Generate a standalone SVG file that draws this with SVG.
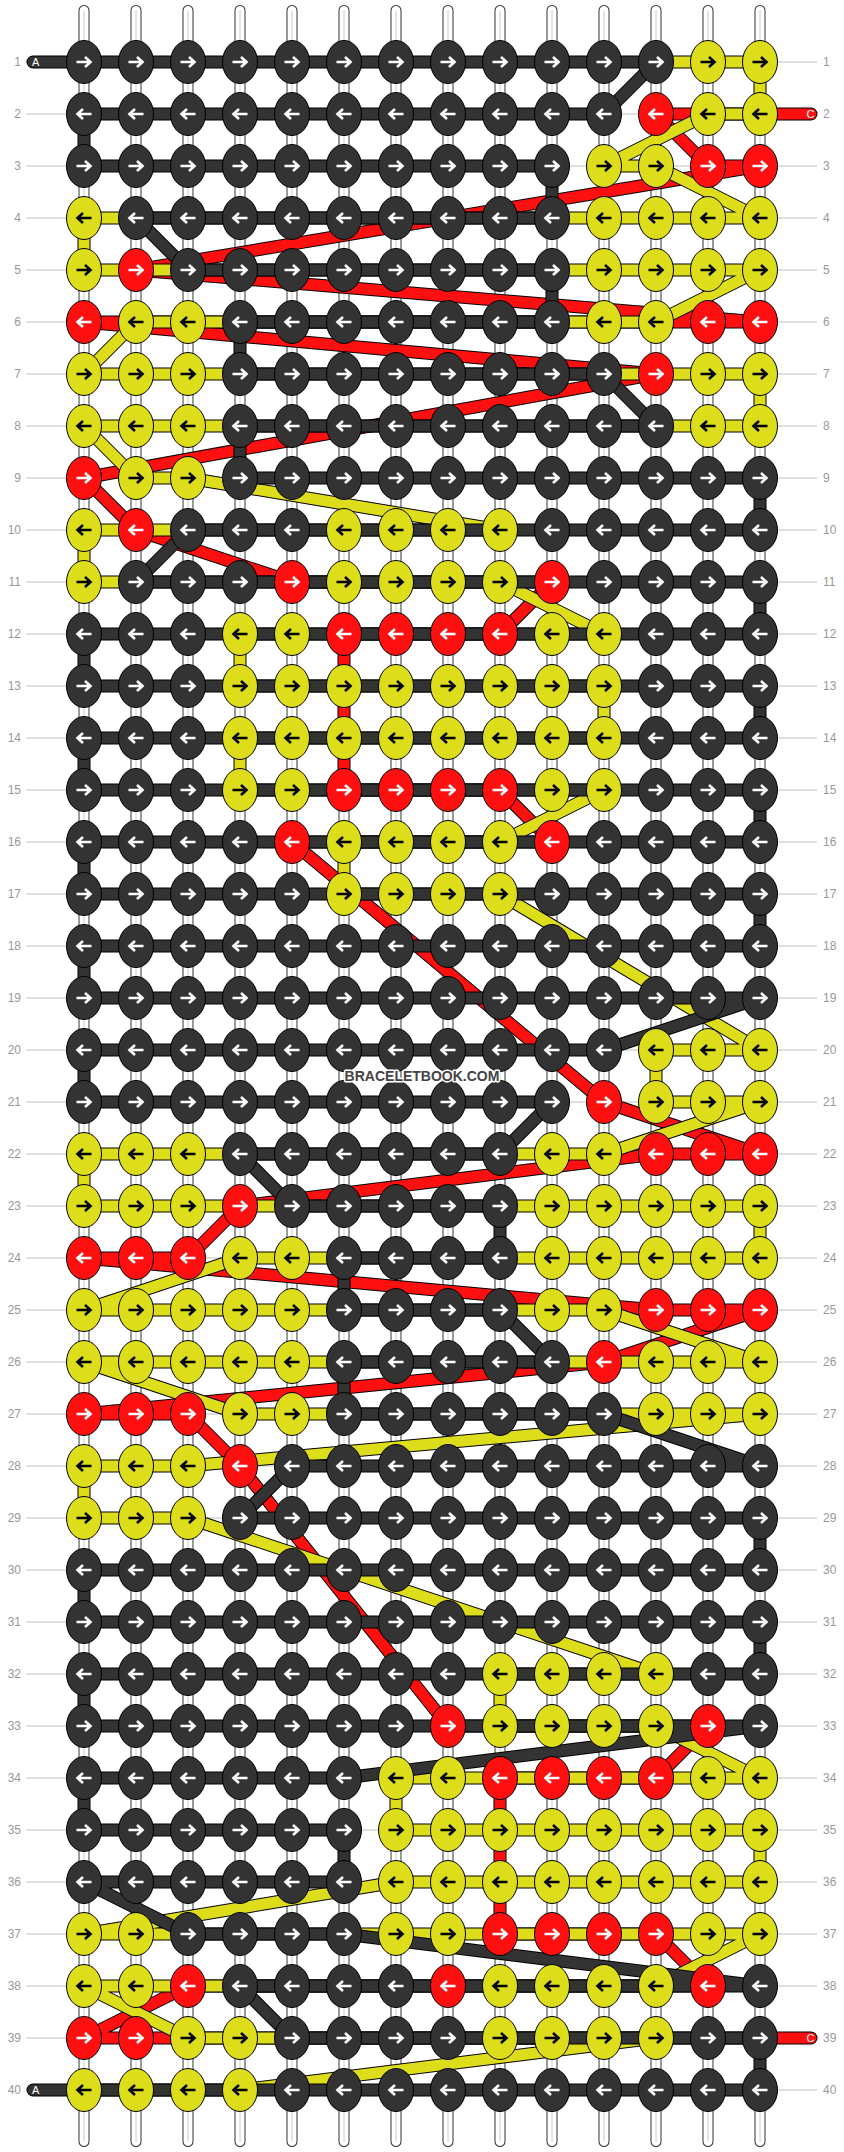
<svg xmlns="http://www.w3.org/2000/svg" xmlns:xlink="http://www.w3.org/1999/xlink" width="844" height="2152" viewBox="0 0 844 2152">
<style>
.g{fill:none;stroke:#c0c0c0;stroke-width:1}
.n{font-family:"Liberation Sans",Arial,sans-serif;font-size:12px;fill:#999}
.l{font-family:"Liberation Sans",Arial,sans-serif;font-size:11px;fill:#fff}
.o{fill:none;stroke:#000;stroke-width:13;stroke-linejoin:round;stroke-linecap:round}
.t{fill:none;stroke-width:11;stroke-linejoin:round;stroke-linecap:round}
.wm{font-family:"Liberation Sans",Arial,sans-serif;font-size:14px;font-weight:bold;fill:#444;stroke:#fff;stroke-width:3;paint-order:stroke;stroke-linejoin:round}
</style>
<defs>
<path id="sp" d="M84,10.5V2141.5M136,10.5V2141.5M188,10.5V2141.5M240,10.5V2141.5M292,10.5V2141.5M344,10.5V2141.5M396,10.5V2141.5M448,10.5V2141.5M500,10.5V2141.5M552,10.5V2141.5M604,10.5V2141.5M656,10.5V2141.5M708,10.5V2141.5M760,10.5V2141.5" fill="none"/>
<path id="pA" d="M33,62H656L604,114H84V166H552V218H136L188,270H552V322H240V374H604L656,426H240V478H760V530H188L136,582H760V634H84V686H760V738H84V790H760V842H84V894H760V946H84V998H760L604,1050H84V1102H552L500,1154H240L292,1206H500V1258H344V1310H500L552,1362H344V1414H604L760,1466H292L240,1518H760V1570H84V1622H760V1674H84V1726H760L344,1778H84V1830H344V1882H84L188,1934H344L760,1986H240L292,2038H760V2090H33"/>
<path id="pB" d="M656,62H760V114H708L604,166H656L760,218H84V270H760L656,322H136L84,374H760V426H84L136,478H188L500,530H84V582H500L604,634H240V686H604V738H240V790H604L500,842H344V894H500L760,1050H656V1102H760L604,1154H84V1206H760V1258H240L84,1310H604L760,1362H84L240,1414H760L188,1466H84V1518H188L656,1674H500V1726H656L760,1778H396V1830H760V1882H396L84,1934H760L656,1986H84L188,2038H656L240,2090H84"/>
<path id="pC" d="M811,114H656L708,166H760L136,270L760,322H84L656,374L84,478L136,530L292,582H552L500,634H344V790H500L552,842H292L604,1102L760,1154H656L240,1206L188,1258H84L656,1310H760L604,1362L84,1414H188L240,1466L448,1726H708L656,1778H500V1934H656L708,1986H188L84,2038H811"/>
<ellipse id="e" rx="17.5" ry="21.5" stroke="#000" stroke-width="1"/>
<path id="af" d="M-7.5,0H6M1,-5L6.5,0L1,5" fill="none" stroke-width="2.6"/>
<path id="ab" d="M7.5,0H-6M-1,-5L-6.5,0L-1,5" fill="none" stroke-width="2.6"/>
<g id="kf"><use href="#e" fill="#333"/><use href="#af" stroke="#fff"/></g>
<g id="kb"><use href="#e" fill="#333"/><use href="#ab" stroke="#fff"/></g>
<g id="yf"><use href="#e" fill="#dddd1b"/><use href="#af" stroke="#000"/></g>
<g id="yb"><use href="#e" fill="#dddd1b"/><use href="#ab" stroke="#000"/></g>
<g id="rf"><use href="#e" fill="#ff1010"/><use href="#af" stroke="#fff"/></g>
<g id="rb"><use href="#e" fill="#ff1010"/><use href="#ab" stroke="#fff"/></g>
</defs>
<rect width="844" height="2152" fill="#fff"/>
<g id="guides">
<path class="g" d="M26,62H817M26,114H817M26,166H817M26,218H817M26,270H817M26,322H817M26,374H817M26,426H817M26,478H817M26,530H817M26,582H817M26,634H817M26,686H817M26,738H817M26,790H817M26,842H817M26,894H817M26,946H817M26,998H817M26,1050H817M26,1102H817M26,1154H817M26,1206H817M26,1258H817M26,1310H817M26,1362H817M26,1414H817M26,1466H817M26,1518H817M26,1570H817M26,1622H817M26,1674H817M26,1726H817M26,1778H817M26,1830H817M26,1882H817M26,1934H817M26,1986H817M26,2038H817M26,2090H817"/>
<g class="n" text-anchor="end">
<text x="21" y="66">1</text><text x="21" y="118">2</text><text x="21" y="170">3</text><text x="21" y="222">4</text><text x="21" y="274">5</text><text x="21" y="326">6</text><text x="21" y="378">7</text><text x="21" y="430">8</text><text x="21" y="482">9</text><text x="21" y="534">10</text><text x="21" y="586">11</text><text x="21" y="638">12</text><text x="21" y="690">13</text><text x="21" y="742">14</text><text x="21" y="794">15</text><text x="21" y="846">16</text><text x="21" y="898">17</text><text x="21" y="950">18</text><text x="21" y="1002">19</text><text x="21" y="1054">20</text><text x="21" y="1106">21</text><text x="21" y="1158">22</text><text x="21" y="1210">23</text><text x="21" y="1262">24</text><text x="21" y="1314">25</text><text x="21" y="1366">26</text><text x="21" y="1418">27</text><text x="21" y="1470">28</text><text x="21" y="1522">29</text><text x="21" y="1574">30</text><text x="21" y="1626">31</text><text x="21" y="1678">32</text><text x="21" y="1730">33</text><text x="21" y="1782">34</text><text x="21" y="1834">35</text><text x="21" y="1886">36</text><text x="21" y="1938">37</text><text x="21" y="1990">38</text><text x="21" y="2042">39</text><text x="21" y="2094">40</text>
</g>
<g class="n">
<text x="823" y="66">1</text><text x="823" y="118">2</text><text x="823" y="170">3</text><text x="823" y="222">4</text><text x="823" y="274">5</text><text x="823" y="326">6</text><text x="823" y="378">7</text><text x="823" y="430">8</text><text x="823" y="482">9</text><text x="823" y="534">10</text><text x="823" y="586">11</text><text x="823" y="638">12</text><text x="823" y="690">13</text><text x="823" y="742">14</text><text x="823" y="794">15</text><text x="823" y="846">16</text><text x="823" y="898">17</text><text x="823" y="950">18</text><text x="823" y="1002">19</text><text x="823" y="1054">20</text><text x="823" y="1106">21</text><text x="823" y="1158">22</text><text x="823" y="1210">23</text><text x="823" y="1262">24</text><text x="823" y="1314">25</text><text x="823" y="1366">26</text><text x="823" y="1418">27</text><text x="823" y="1470">28</text><text x="823" y="1522">29</text><text x="823" y="1574">30</text><text x="823" y="1626">31</text><text x="823" y="1678">32</text><text x="823" y="1730">33</text><text x="823" y="1782">34</text><text x="823" y="1834">35</text><text x="823" y="1886">36</text><text x="823" y="1938">37</text><text x="823" y="1990">38</text><text x="823" y="2042">39</text><text x="823" y="2094">40</text>
</g>
</g>
<g id="strings">
<use href="#sp" stroke="#333" stroke-width="11" stroke-linecap="round"/>
<use href="#sp" stroke="#fff" stroke-width="9" stroke-linecap="round"/>
<use href="#sp" stroke="#c8c8c8" stroke-width="1"/>
</g>
<g id="connectors">
<use href="#pC" class="o"/><use href="#pC" class="t" stroke="#ff1010"/>
<use href="#pB" class="o"/><use href="#pB" class="t" stroke="#dddd1b"/>
<use href="#pA" class="o"/><use href="#pA" class="t" stroke="#333"/>
<text class="l" x="32" y="66">A</text>
<text class="l" x="814.5" y="118" text-anchor="end">C</text>
<text class="l" x="814.5" y="2042" text-anchor="end">C</text>
<text class="l" x="32" y="2094">A</text>
</g>
<g id="knots">
<g transform="translate(0,62)"><g id="n1_1"><use href="#kf" x="84"/></g><g id="n1_2"><use href="#kf" x="136"/></g><g id="n1_3"><use href="#kf" x="188"/></g><g id="n1_4"><use href="#kf" x="240"/></g><g id="n1_5"><use href="#kf" x="292"/></g><g id="n1_6"><use href="#kf" x="344"/></g><g id="n1_7"><use href="#kf" x="396"/></g><g id="n1_8"><use href="#kf" x="448"/></g><g id="n1_9"><use href="#kf" x="500"/></g><g id="n1_10"><use href="#kf" x="552"/></g><g id="n1_11"><use href="#kf" x="604"/></g><g id="n1_12"><use href="#kf" x="656"/></g><g id="n1_13"><use href="#yf" x="708"/></g><g id="n1_14"><use href="#yf" x="760"/></g></g>
<g transform="translate(0,114)"><g id="n2_1"><use href="#kb" x="84"/></g><g id="n2_2"><use href="#kb" x="136"/></g><g id="n2_3"><use href="#kb" x="188"/></g><g id="n2_4"><use href="#kb" x="240"/></g><g id="n2_5"><use href="#kb" x="292"/></g><g id="n2_6"><use href="#kb" x="344"/></g><g id="n2_7"><use href="#kb" x="396"/></g><g id="n2_8"><use href="#kb" x="448"/></g><g id="n2_9"><use href="#kb" x="500"/></g><g id="n2_10"><use href="#kb" x="552"/></g><g id="n2_11"><use href="#kb" x="604"/></g><g id="n2_12"><use href="#rb" x="656"/></g><g id="n2_13"><use href="#yb" x="708"/></g><g id="n2_14"><use href="#yb" x="760"/></g></g>
<g transform="translate(0,166)"><g id="n3_1"><use href="#kf" x="84"/></g><g id="n3_2"><use href="#kf" x="136"/></g><g id="n3_3"><use href="#kf" x="188"/></g><g id="n3_4"><use href="#kf" x="240"/></g><g id="n3_5"><use href="#kf" x="292"/></g><g id="n3_6"><use href="#kf" x="344"/></g><g id="n3_7"><use href="#kf" x="396"/></g><g id="n3_8"><use href="#kf" x="448"/></g><g id="n3_9"><use href="#kf" x="500"/></g><g id="n3_10"><use href="#kf" x="552"/></g><g id="n3_11"><use href="#yf" x="604"/></g><g id="n3_12"><use href="#yf" x="656"/></g><g id="n3_13"><use href="#rf" x="708"/></g><g id="n3_14"><use href="#rf" x="760"/></g></g>
<g transform="translate(0,218)"><g id="n4_1"><use href="#yb" x="84"/></g><g id="n4_2"><use href="#kb" x="136"/></g><g id="n4_3"><use href="#kb" x="188"/></g><g id="n4_4"><use href="#kb" x="240"/></g><g id="n4_5"><use href="#kb" x="292"/></g><g id="n4_6"><use href="#kb" x="344"/></g><g id="n4_7"><use href="#kb" x="396"/></g><g id="n4_8"><use href="#kb" x="448"/></g><g id="n4_9"><use href="#kb" x="500"/></g><g id="n4_10"><use href="#kb" x="552"/></g><g id="n4_11"><use href="#yb" x="604"/></g><g id="n4_12"><use href="#yb" x="656"/></g><g id="n4_13"><use href="#yb" x="708"/></g><g id="n4_14"><use href="#yb" x="760"/></g></g>
<g transform="translate(0,270)"><g id="n5_1"><use href="#yf" x="84"/></g><g id="n5_2"><use href="#rf" x="136"/></g><g id="n5_3"><use href="#kf" x="188"/></g><g id="n5_4"><use href="#kf" x="240"/></g><g id="n5_5"><use href="#kf" x="292"/></g><g id="n5_6"><use href="#kf" x="344"/></g><g id="n5_7"><use href="#kf" x="396"/></g><g id="n5_8"><use href="#kf" x="448"/></g><g id="n5_9"><use href="#kf" x="500"/></g><g id="n5_10"><use href="#kf" x="552"/></g><g id="n5_11"><use href="#yf" x="604"/></g><g id="n5_12"><use href="#yf" x="656"/></g><g id="n5_13"><use href="#yf" x="708"/></g><g id="n5_14"><use href="#yf" x="760"/></g></g>
<g transform="translate(0,322)"><g id="n6_1"><use href="#rb" x="84"/></g><g id="n6_2"><use href="#yb" x="136"/></g><g id="n6_3"><use href="#yb" x="188"/></g><g id="n6_4"><use href="#kb" x="240"/></g><g id="n6_5"><use href="#kb" x="292"/></g><g id="n6_6"><use href="#kb" x="344"/></g><g id="n6_7"><use href="#kb" x="396"/></g><g id="n6_8"><use href="#kb" x="448"/></g><g id="n6_9"><use href="#kb" x="500"/></g><g id="n6_10"><use href="#kb" x="552"/></g><g id="n6_11"><use href="#yb" x="604"/></g><g id="n6_12"><use href="#yb" x="656"/></g><g id="n6_13"><use href="#rb" x="708"/></g><g id="n6_14"><use href="#rb" x="760"/></g></g>
<g transform="translate(0,374)"><g id="n7_1"><use href="#yf" x="84"/></g><g id="n7_2"><use href="#yf" x="136"/></g><g id="n7_3"><use href="#yf" x="188"/></g><g id="n7_4"><use href="#kf" x="240"/></g><g id="n7_5"><use href="#kf" x="292"/></g><g id="n7_6"><use href="#kf" x="344"/></g><g id="n7_7"><use href="#kf" x="396"/></g><g id="n7_8"><use href="#kf" x="448"/></g><g id="n7_9"><use href="#kf" x="500"/></g><g id="n7_10"><use href="#kf" x="552"/></g><g id="n7_11"><use href="#kf" x="604"/></g><g id="n7_12"><use href="#rf" x="656"/></g><g id="n7_13"><use href="#yf" x="708"/></g><g id="n7_14"><use href="#yf" x="760"/></g></g>
<g transform="translate(0,426)"><g id="n8_1"><use href="#yb" x="84"/></g><g id="n8_2"><use href="#yb" x="136"/></g><g id="n8_3"><use href="#yb" x="188"/></g><g id="n8_4"><use href="#kb" x="240"/></g><g id="n8_5"><use href="#kb" x="292"/></g><g id="n8_6"><use href="#kb" x="344"/></g><g id="n8_7"><use href="#kb" x="396"/></g><g id="n8_8"><use href="#kb" x="448"/></g><g id="n8_9"><use href="#kb" x="500"/></g><g id="n8_10"><use href="#kb" x="552"/></g><g id="n8_11"><use href="#kb" x="604"/></g><g id="n8_12"><use href="#kb" x="656"/></g><g id="n8_13"><use href="#yb" x="708"/></g><g id="n8_14"><use href="#yb" x="760"/></g></g>
<g transform="translate(0,478)"><g id="n9_1"><use href="#rf" x="84"/></g><g id="n9_2"><use href="#yf" x="136"/></g><g id="n9_3"><use href="#yf" x="188"/></g><g id="n9_4"><use href="#kf" x="240"/></g><g id="n9_5"><use href="#kf" x="292"/></g><g id="n9_6"><use href="#kf" x="344"/></g><g id="n9_7"><use href="#kf" x="396"/></g><g id="n9_8"><use href="#kf" x="448"/></g><g id="n9_9"><use href="#kf" x="500"/></g><g id="n9_10"><use href="#kf" x="552"/></g><g id="n9_11"><use href="#kf" x="604"/></g><g id="n9_12"><use href="#kf" x="656"/></g><g id="n9_13"><use href="#kf" x="708"/></g><g id="n9_14"><use href="#kf" x="760"/></g></g>
<g transform="translate(0,530)"><g id="n10_1"><use href="#yb" x="84"/></g><g id="n10_2"><use href="#rb" x="136"/></g><g id="n10_3"><use href="#kb" x="188"/></g><g id="n10_4"><use href="#kb" x="240"/></g><g id="n10_5"><use href="#kb" x="292"/></g><g id="n10_6"><use href="#yb" x="344"/></g><g id="n10_7"><use href="#yb" x="396"/></g><g id="n10_8"><use href="#yb" x="448"/></g><g id="n10_9"><use href="#yb" x="500"/></g><g id="n10_10"><use href="#kb" x="552"/></g><g id="n10_11"><use href="#kb" x="604"/></g><g id="n10_12"><use href="#kb" x="656"/></g><g id="n10_13"><use href="#kb" x="708"/></g><g id="n10_14"><use href="#kb" x="760"/></g></g>
<g transform="translate(0,582)"><g id="n11_1"><use href="#yf" x="84"/></g><g id="n11_2"><use href="#kf" x="136"/></g><g id="n11_3"><use href="#kf" x="188"/></g><g id="n11_4"><use href="#kf" x="240"/></g><g id="n11_5"><use href="#rf" x="292"/></g><g id="n11_6"><use href="#yf" x="344"/></g><g id="n11_7"><use href="#yf" x="396"/></g><g id="n11_8"><use href="#yf" x="448"/></g><g id="n11_9"><use href="#yf" x="500"/></g><g id="n11_10"><use href="#rf" x="552"/></g><g id="n11_11"><use href="#kf" x="604"/></g><g id="n11_12"><use href="#kf" x="656"/></g><g id="n11_13"><use href="#kf" x="708"/></g><g id="n11_14"><use href="#kf" x="760"/></g></g>
<g transform="translate(0,634)"><g id="n12_1"><use href="#kb" x="84"/></g><g id="n12_2"><use href="#kb" x="136"/></g><g id="n12_3"><use href="#kb" x="188"/></g><g id="n12_4"><use href="#yb" x="240"/></g><g id="n12_5"><use href="#yb" x="292"/></g><g id="n12_6"><use href="#rb" x="344"/></g><g id="n12_7"><use href="#rb" x="396"/></g><g id="n12_8"><use href="#rb" x="448"/></g><g id="n12_9"><use href="#rb" x="500"/></g><g id="n12_10"><use href="#yb" x="552"/></g><g id="n12_11"><use href="#yb" x="604"/></g><g id="n12_12"><use href="#kb" x="656"/></g><g id="n12_13"><use href="#kb" x="708"/></g><g id="n12_14"><use href="#kb" x="760"/></g></g>
<g transform="translate(0,686)"><g id="n13_1"><use href="#kf" x="84"/></g><g id="n13_2"><use href="#kf" x="136"/></g><g id="n13_3"><use href="#kf" x="188"/></g><g id="n13_4"><use href="#yf" x="240"/></g><g id="n13_5"><use href="#yf" x="292"/></g><g id="n13_6"><use href="#yf" x="344"/></g><g id="n13_7"><use href="#yf" x="396"/></g><g id="n13_8"><use href="#yf" x="448"/></g><g id="n13_9"><use href="#yf" x="500"/></g><g id="n13_10"><use href="#yf" x="552"/></g><g id="n13_11"><use href="#yf" x="604"/></g><g id="n13_12"><use href="#kf" x="656"/></g><g id="n13_13"><use href="#kf" x="708"/></g><g id="n13_14"><use href="#kf" x="760"/></g></g>
<g transform="translate(0,738)"><g id="n14_1"><use href="#kb" x="84"/></g><g id="n14_2"><use href="#kb" x="136"/></g><g id="n14_3"><use href="#kb" x="188"/></g><g id="n14_4"><use href="#yb" x="240"/></g><g id="n14_5"><use href="#yb" x="292"/></g><g id="n14_6"><use href="#yb" x="344"/></g><g id="n14_7"><use href="#yb" x="396"/></g><g id="n14_8"><use href="#yb" x="448"/></g><g id="n14_9"><use href="#yb" x="500"/></g><g id="n14_10"><use href="#yb" x="552"/></g><g id="n14_11"><use href="#yb" x="604"/></g><g id="n14_12"><use href="#kb" x="656"/></g><g id="n14_13"><use href="#kb" x="708"/></g><g id="n14_14"><use href="#kb" x="760"/></g></g>
<g transform="translate(0,790)"><g id="n15_1"><use href="#kf" x="84"/></g><g id="n15_2"><use href="#kf" x="136"/></g><g id="n15_3"><use href="#kf" x="188"/></g><g id="n15_4"><use href="#yf" x="240"/></g><g id="n15_5"><use href="#yf" x="292"/></g><g id="n15_6"><use href="#rf" x="344"/></g><g id="n15_7"><use href="#rf" x="396"/></g><g id="n15_8"><use href="#rf" x="448"/></g><g id="n15_9"><use href="#rf" x="500"/></g><g id="n15_10"><use href="#yf" x="552"/></g><g id="n15_11"><use href="#yf" x="604"/></g><g id="n15_12"><use href="#kf" x="656"/></g><g id="n15_13"><use href="#kf" x="708"/></g><g id="n15_14"><use href="#kf" x="760"/></g></g>
<g transform="translate(0,842)"><g id="n16_1"><use href="#kb" x="84"/></g><g id="n16_2"><use href="#kb" x="136"/></g><g id="n16_3"><use href="#kb" x="188"/></g><g id="n16_4"><use href="#kb" x="240"/></g><g id="n16_5"><use href="#rb" x="292"/></g><g id="n16_6"><use href="#yb" x="344"/></g><g id="n16_7"><use href="#yb" x="396"/></g><g id="n16_8"><use href="#yb" x="448"/></g><g id="n16_9"><use href="#yb" x="500"/></g><g id="n16_10"><use href="#rb" x="552"/></g><g id="n16_11"><use href="#kb" x="604"/></g><g id="n16_12"><use href="#kb" x="656"/></g><g id="n16_13"><use href="#kb" x="708"/></g><g id="n16_14"><use href="#kb" x="760"/></g></g>
<g transform="translate(0,894)"><g id="n17_1"><use href="#kf" x="84"/></g><g id="n17_2"><use href="#kf" x="136"/></g><g id="n17_3"><use href="#kf" x="188"/></g><g id="n17_4"><use href="#kf" x="240"/></g><g id="n17_5"><use href="#kf" x="292"/></g><g id="n17_6"><use href="#yf" x="344"/></g><g id="n17_7"><use href="#yf" x="396"/></g><g id="n17_8"><use href="#yf" x="448"/></g><g id="n17_9"><use href="#yf" x="500"/></g><g id="n17_10"><use href="#kf" x="552"/></g><g id="n17_11"><use href="#kf" x="604"/></g><g id="n17_12"><use href="#kf" x="656"/></g><g id="n17_13"><use href="#kf" x="708"/></g><g id="n17_14"><use href="#kf" x="760"/></g></g>
<g transform="translate(0,946)"><g id="n18_1"><use href="#kb" x="84"/></g><g id="n18_2"><use href="#kb" x="136"/></g><g id="n18_3"><use href="#kb" x="188"/></g><g id="n18_4"><use href="#kb" x="240"/></g><g id="n18_5"><use href="#kb" x="292"/></g><g id="n18_6"><use href="#kb" x="344"/></g><g id="n18_7"><use href="#kb" x="396"/></g><g id="n18_8"><use href="#kb" x="448"/></g><g id="n18_9"><use href="#kb" x="500"/></g><g id="n18_10"><use href="#kb" x="552"/></g><g id="n18_11"><use href="#kb" x="604"/></g><g id="n18_12"><use href="#kb" x="656"/></g><g id="n18_13"><use href="#kb" x="708"/></g><g id="n18_14"><use href="#kb" x="760"/></g></g>
<g transform="translate(0,998)"><g id="n19_1"><use href="#kf" x="84"/></g><g id="n19_2"><use href="#kf" x="136"/></g><g id="n19_3"><use href="#kf" x="188"/></g><g id="n19_4"><use href="#kf" x="240"/></g><g id="n19_5"><use href="#kf" x="292"/></g><g id="n19_6"><use href="#kf" x="344"/></g><g id="n19_7"><use href="#kf" x="396"/></g><g id="n19_8"><use href="#kf" x="448"/></g><g id="n19_9"><use href="#kf" x="500"/></g><g id="n19_10"><use href="#kf" x="552"/></g><g id="n19_11"><use href="#kf" x="604"/></g><g id="n19_12"><use href="#kf" x="656"/></g><g id="n19_13"><use href="#kf" x="708"/></g><g id="n19_14"><use href="#kf" x="760"/></g></g>
<g transform="translate(0,1050)"><g id="n20_1"><use href="#kb" x="84"/></g><g id="n20_2"><use href="#kb" x="136"/></g><g id="n20_3"><use href="#kb" x="188"/></g><g id="n20_4"><use href="#kb" x="240"/></g><g id="n20_5"><use href="#kb" x="292"/></g><g id="n20_6"><use href="#kb" x="344"/></g><g id="n20_7"><use href="#kb" x="396"/></g><g id="n20_8"><use href="#kb" x="448"/></g><g id="n20_9"><use href="#kb" x="500"/></g><g id="n20_10"><use href="#kb" x="552"/></g><g id="n20_11"><use href="#kb" x="604"/></g><g id="n20_12"><use href="#yb" x="656"/></g><g id="n20_13"><use href="#yb" x="708"/></g><g id="n20_14"><use href="#yb" x="760"/></g></g>
<g transform="translate(0,1102)"><g id="n21_1"><use href="#kf" x="84"/></g><g id="n21_2"><use href="#kf" x="136"/></g><g id="n21_3"><use href="#kf" x="188"/></g><g id="n21_4"><use href="#kf" x="240"/></g><g id="n21_5"><use href="#kf" x="292"/></g><g id="n21_6"><use href="#kf" x="344"/></g><g id="n21_7"><use href="#kf" x="396"/></g><g id="n21_8"><use href="#kf" x="448"/></g><g id="n21_9"><use href="#kf" x="500"/></g><g id="n21_10"><use href="#kf" x="552"/></g><g id="n21_11"><use href="#rf" x="604"/></g><g id="n21_12"><use href="#yf" x="656"/></g><g id="n21_13"><use href="#yf" x="708"/></g><g id="n21_14"><use href="#yf" x="760"/></g></g>
<g transform="translate(0,1154)"><g id="n22_1"><use href="#yb" x="84"/></g><g id="n22_2"><use href="#yb" x="136"/></g><g id="n22_3"><use href="#yb" x="188"/></g><g id="n22_4"><use href="#kb" x="240"/></g><g id="n22_5"><use href="#kb" x="292"/></g><g id="n22_6"><use href="#kb" x="344"/></g><g id="n22_7"><use href="#kb" x="396"/></g><g id="n22_8"><use href="#kb" x="448"/></g><g id="n22_9"><use href="#kb" x="500"/></g><g id="n22_10"><use href="#yb" x="552"/></g><g id="n22_11"><use href="#yb" x="604"/></g><g id="n22_12"><use href="#rb" x="656"/></g><g id="n22_13"><use href="#rb" x="708"/></g><g id="n22_14"><use href="#rb" x="760"/></g></g>
<g transform="translate(0,1206)"><g id="n23_1"><use href="#yf" x="84"/></g><g id="n23_2"><use href="#yf" x="136"/></g><g id="n23_3"><use href="#yf" x="188"/></g><g id="n23_4"><use href="#rf" x="240"/></g><g id="n23_5"><use href="#kf" x="292"/></g><g id="n23_6"><use href="#kf" x="344"/></g><g id="n23_7"><use href="#kf" x="396"/></g><g id="n23_8"><use href="#kf" x="448"/></g><g id="n23_9"><use href="#kf" x="500"/></g><g id="n23_10"><use href="#yf" x="552"/></g><g id="n23_11"><use href="#yf" x="604"/></g><g id="n23_12"><use href="#yf" x="656"/></g><g id="n23_13"><use href="#yf" x="708"/></g><g id="n23_14"><use href="#yf" x="760"/></g></g>
<g transform="translate(0,1258)"><g id="n24_1"><use href="#rb" x="84"/></g><g id="n24_2"><use href="#rb" x="136"/></g><g id="n24_3"><use href="#rb" x="188"/></g><g id="n24_4"><use href="#yb" x="240"/></g><g id="n24_5"><use href="#yb" x="292"/></g><g id="n24_6"><use href="#kb" x="344"/></g><g id="n24_7"><use href="#kb" x="396"/></g><g id="n24_8"><use href="#kb" x="448"/></g><g id="n24_9"><use href="#kb" x="500"/></g><g id="n24_10"><use href="#yb" x="552"/></g><g id="n24_11"><use href="#yb" x="604"/></g><g id="n24_12"><use href="#yb" x="656"/></g><g id="n24_13"><use href="#yb" x="708"/></g><g id="n24_14"><use href="#yb" x="760"/></g></g>
<g transform="translate(0,1310)"><g id="n25_1"><use href="#yf" x="84"/></g><g id="n25_2"><use href="#yf" x="136"/></g><g id="n25_3"><use href="#yf" x="188"/></g><g id="n25_4"><use href="#yf" x="240"/></g><g id="n25_5"><use href="#yf" x="292"/></g><g id="n25_6"><use href="#kf" x="344"/></g><g id="n25_7"><use href="#kf" x="396"/></g><g id="n25_8"><use href="#kf" x="448"/></g><g id="n25_9"><use href="#kf" x="500"/></g><g id="n25_10"><use href="#yf" x="552"/></g><g id="n25_11"><use href="#yf" x="604"/></g><g id="n25_12"><use href="#rf" x="656"/></g><g id="n25_13"><use href="#rf" x="708"/></g><g id="n25_14"><use href="#rf" x="760"/></g></g>
<g transform="translate(0,1362)"><g id="n26_1"><use href="#yb" x="84"/></g><g id="n26_2"><use href="#yb" x="136"/></g><g id="n26_3"><use href="#yb" x="188"/></g><g id="n26_4"><use href="#yb" x="240"/></g><g id="n26_5"><use href="#yb" x="292"/></g><g id="n26_6"><use href="#kb" x="344"/></g><g id="n26_7"><use href="#kb" x="396"/></g><g id="n26_8"><use href="#kb" x="448"/></g><g id="n26_9"><use href="#kb" x="500"/></g><g id="n26_10"><use href="#kb" x="552"/></g><g id="n26_11"><use href="#rb" x="604"/></g><g id="n26_12"><use href="#yb" x="656"/></g><g id="n26_13"><use href="#yb" x="708"/></g><g id="n26_14"><use href="#yb" x="760"/></g></g>
<g transform="translate(0,1414)"><g id="n27_1"><use href="#rf" x="84"/></g><g id="n27_2"><use href="#rf" x="136"/></g><g id="n27_3"><use href="#rf" x="188"/></g><g id="n27_4"><use href="#yf" x="240"/></g><g id="n27_5"><use href="#yf" x="292"/></g><g id="n27_6"><use href="#kf" x="344"/></g><g id="n27_7"><use href="#kf" x="396"/></g><g id="n27_8"><use href="#kf" x="448"/></g><g id="n27_9"><use href="#kf" x="500"/></g><g id="n27_10"><use href="#kf" x="552"/></g><g id="n27_11"><use href="#kf" x="604"/></g><g id="n27_12"><use href="#yf" x="656"/></g><g id="n27_13"><use href="#yf" x="708"/></g><g id="n27_14"><use href="#yf" x="760"/></g></g>
<g transform="translate(0,1466)"><g id="n28_1"><use href="#yb" x="84"/></g><g id="n28_2"><use href="#yb" x="136"/></g><g id="n28_3"><use href="#yb" x="188"/></g><g id="n28_4"><use href="#rb" x="240"/></g><g id="n28_5"><use href="#kb" x="292"/></g><g id="n28_6"><use href="#kb" x="344"/></g><g id="n28_7"><use href="#kb" x="396"/></g><g id="n28_8"><use href="#kb" x="448"/></g><g id="n28_9"><use href="#kb" x="500"/></g><g id="n28_10"><use href="#kb" x="552"/></g><g id="n28_11"><use href="#kb" x="604"/></g><g id="n28_12"><use href="#kb" x="656"/></g><g id="n28_13"><use href="#kb" x="708"/></g><g id="n28_14"><use href="#kb" x="760"/></g></g>
<g transform="translate(0,1518)"><g id="n29_1"><use href="#yf" x="84"/></g><g id="n29_2"><use href="#yf" x="136"/></g><g id="n29_3"><use href="#yf" x="188"/></g><g id="n29_4"><use href="#kf" x="240"/></g><g id="n29_5"><use href="#kf" x="292"/></g><g id="n29_6"><use href="#kf" x="344"/></g><g id="n29_7"><use href="#kf" x="396"/></g><g id="n29_8"><use href="#kf" x="448"/></g><g id="n29_9"><use href="#kf" x="500"/></g><g id="n29_10"><use href="#kf" x="552"/></g><g id="n29_11"><use href="#kf" x="604"/></g><g id="n29_12"><use href="#kf" x="656"/></g><g id="n29_13"><use href="#kf" x="708"/></g><g id="n29_14"><use href="#kf" x="760"/></g></g>
<g transform="translate(0,1570)"><g id="n30_1"><use href="#kb" x="84"/></g><g id="n30_2"><use href="#kb" x="136"/></g><g id="n30_3"><use href="#kb" x="188"/></g><g id="n30_4"><use href="#kb" x="240"/></g><g id="n30_5"><use href="#kb" x="292"/></g><g id="n30_6"><use href="#kb" x="344"/></g><g id="n30_7"><use href="#kb" x="396"/></g><g id="n30_8"><use href="#kb" x="448"/></g><g id="n30_9"><use href="#kb" x="500"/></g><g id="n30_10"><use href="#kb" x="552"/></g><g id="n30_11"><use href="#kb" x="604"/></g><g id="n30_12"><use href="#kb" x="656"/></g><g id="n30_13"><use href="#kb" x="708"/></g><g id="n30_14"><use href="#kb" x="760"/></g></g>
<g transform="translate(0,1622)"><g id="n31_1"><use href="#kf" x="84"/></g><g id="n31_2"><use href="#kf" x="136"/></g><g id="n31_3"><use href="#kf" x="188"/></g><g id="n31_4"><use href="#kf" x="240"/></g><g id="n31_5"><use href="#kf" x="292"/></g><g id="n31_6"><use href="#kf" x="344"/></g><g id="n31_7"><use href="#kf" x="396"/></g><g id="n31_8"><use href="#kf" x="448"/></g><g id="n31_9"><use href="#kf" x="500"/></g><g id="n31_10"><use href="#kf" x="552"/></g><g id="n31_11"><use href="#kf" x="604"/></g><g id="n31_12"><use href="#kf" x="656"/></g><g id="n31_13"><use href="#kf" x="708"/></g><g id="n31_14"><use href="#kf" x="760"/></g></g>
<g transform="translate(0,1674)"><g id="n32_1"><use href="#kb" x="84"/></g><g id="n32_2"><use href="#kb" x="136"/></g><g id="n32_3"><use href="#kb" x="188"/></g><g id="n32_4"><use href="#kb" x="240"/></g><g id="n32_5"><use href="#kb" x="292"/></g><g id="n32_6"><use href="#kb" x="344"/></g><g id="n32_7"><use href="#kb" x="396"/></g><g id="n32_8"><use href="#kb" x="448"/></g><g id="n32_9"><use href="#yb" x="500"/></g><g id="n32_10"><use href="#yb" x="552"/></g><g id="n32_11"><use href="#yb" x="604"/></g><g id="n32_12"><use href="#yb" x="656"/></g><g id="n32_13"><use href="#kb" x="708"/></g><g id="n32_14"><use href="#kb" x="760"/></g></g>
<g transform="translate(0,1726)"><g id="n33_1"><use href="#kf" x="84"/></g><g id="n33_2"><use href="#kf" x="136"/></g><g id="n33_3"><use href="#kf" x="188"/></g><g id="n33_4"><use href="#kf" x="240"/></g><g id="n33_5"><use href="#kf" x="292"/></g><g id="n33_6"><use href="#kf" x="344"/></g><g id="n33_7"><use href="#kf" x="396"/></g><g id="n33_8"><use href="#rf" x="448"/></g><g id="n33_9"><use href="#yf" x="500"/></g><g id="n33_10"><use href="#yf" x="552"/></g><g id="n33_11"><use href="#yf" x="604"/></g><g id="n33_12"><use href="#yf" x="656"/></g><g id="n33_13"><use href="#rf" x="708"/></g><g id="n33_14"><use href="#kf" x="760"/></g></g>
<g transform="translate(0,1778)"><g id="n34_1"><use href="#kb" x="84"/></g><g id="n34_2"><use href="#kb" x="136"/></g><g id="n34_3"><use href="#kb" x="188"/></g><g id="n34_4"><use href="#kb" x="240"/></g><g id="n34_5"><use href="#kb" x="292"/></g><g id="n34_6"><use href="#kb" x="344"/></g><g id="n34_7"><use href="#yb" x="396"/></g><g id="n34_8"><use href="#yb" x="448"/></g><g id="n34_9"><use href="#rb" x="500"/></g><g id="n34_10"><use href="#rb" x="552"/></g><g id="n34_11"><use href="#rb" x="604"/></g><g id="n34_12"><use href="#rb" x="656"/></g><g id="n34_13"><use href="#yb" x="708"/></g><g id="n34_14"><use href="#yb" x="760"/></g></g>
<g transform="translate(0,1830)"><g id="n35_1"><use href="#kf" x="84"/></g><g id="n35_2"><use href="#kf" x="136"/></g><g id="n35_3"><use href="#kf" x="188"/></g><g id="n35_4"><use href="#kf" x="240"/></g><g id="n35_5"><use href="#kf" x="292"/></g><g id="n35_6"><use href="#kf" x="344"/></g><g id="n35_7"><use href="#yf" x="396"/></g><g id="n35_8"><use href="#yf" x="448"/></g><g id="n35_9"><use href="#yf" x="500"/></g><g id="n35_10"><use href="#yf" x="552"/></g><g id="n35_11"><use href="#yf" x="604"/></g><g id="n35_12"><use href="#yf" x="656"/></g><g id="n35_13"><use href="#yf" x="708"/></g><g id="n35_14"><use href="#yf" x="760"/></g></g>
<g transform="translate(0,1882)"><g id="n36_1"><use href="#kb" x="84"/></g><g id="n36_2"><use href="#kb" x="136"/></g><g id="n36_3"><use href="#kb" x="188"/></g><g id="n36_4"><use href="#kb" x="240"/></g><g id="n36_5"><use href="#kb" x="292"/></g><g id="n36_6"><use href="#kb" x="344"/></g><g id="n36_7"><use href="#yb" x="396"/></g><g id="n36_8"><use href="#yb" x="448"/></g><g id="n36_9"><use href="#yb" x="500"/></g><g id="n36_10"><use href="#yb" x="552"/></g><g id="n36_11"><use href="#yb" x="604"/></g><g id="n36_12"><use href="#yb" x="656"/></g><g id="n36_13"><use href="#yb" x="708"/></g><g id="n36_14"><use href="#yb" x="760"/></g></g>
<g transform="translate(0,1934)"><g id="n37_1"><use href="#yf" x="84"/></g><g id="n37_2"><use href="#yf" x="136"/></g><g id="n37_3"><use href="#kf" x="188"/></g><g id="n37_4"><use href="#kf" x="240"/></g><g id="n37_5"><use href="#kf" x="292"/></g><g id="n37_6"><use href="#kf" x="344"/></g><g id="n37_7"><use href="#yf" x="396"/></g><g id="n37_8"><use href="#yf" x="448"/></g><g id="n37_9"><use href="#rf" x="500"/></g><g id="n37_10"><use href="#rf" x="552"/></g><g id="n37_11"><use href="#rf" x="604"/></g><g id="n37_12"><use href="#rf" x="656"/></g><g id="n37_13"><use href="#yf" x="708"/></g><g id="n37_14"><use href="#yf" x="760"/></g></g>
<g transform="translate(0,1986)"><g id="n38_1"><use href="#yb" x="84"/></g><g id="n38_2"><use href="#yb" x="136"/></g><g id="n38_3"><use href="#rb" x="188"/></g><g id="n38_4"><use href="#kb" x="240"/></g><g id="n38_5"><use href="#kb" x="292"/></g><g id="n38_6"><use href="#kb" x="344"/></g><g id="n38_7"><use href="#kb" x="396"/></g><g id="n38_8"><use href="#rb" x="448"/></g><g id="n38_9"><use href="#yb" x="500"/></g><g id="n38_10"><use href="#yb" x="552"/></g><g id="n38_11"><use href="#yb" x="604"/></g><g id="n38_12"><use href="#yb" x="656"/></g><g id="n38_13"><use href="#rb" x="708"/></g><g id="n38_14"><use href="#kb" x="760"/></g></g>
<g transform="translate(0,2038)"><g id="n39_1"><use href="#rf" x="84"/></g><g id="n39_2"><use href="#rf" x="136"/></g><g id="n39_3"><use href="#yf" x="188"/></g><g id="n39_4"><use href="#yf" x="240"/></g><g id="n39_5"><use href="#kf" x="292"/></g><g id="n39_6"><use href="#kf" x="344"/></g><g id="n39_7"><use href="#kf" x="396"/></g><g id="n39_8"><use href="#kf" x="448"/></g><g id="n39_9"><use href="#yf" x="500"/></g><g id="n39_10"><use href="#yf" x="552"/></g><g id="n39_11"><use href="#yf" x="604"/></g><g id="n39_12"><use href="#yf" x="656"/></g><g id="n39_13"><use href="#kf" x="708"/></g><g id="n39_14"><use href="#kf" x="760"/></g></g>
<g transform="translate(0,2090)"><g id="n40_1"><use href="#yb" x="84"/></g><g id="n40_2"><use href="#yb" x="136"/></g><g id="n40_3"><use href="#yb" x="188"/></g><g id="n40_4"><use href="#yb" x="240"/></g><g id="n40_5"><use href="#kb" x="292"/></g><g id="n40_6"><use href="#kb" x="344"/></g><g id="n40_7"><use href="#kb" x="396"/></g><g id="n40_8"><use href="#kb" x="448"/></g><g id="n40_9"><use href="#kb" x="500"/></g><g id="n40_10"><use href="#kb" x="552"/></g><g id="n40_11"><use href="#kb" x="604"/></g><g id="n40_12"><use href="#kb" x="656"/></g><g id="n40_13"><use href="#kb" x="708"/></g><g id="n40_14"><use href="#kb" x="760"/></g></g>
</g>
<text id="watermark" class="wm" x="422" y="1080.5" text-anchor="middle">BRACELETBOOK.COM</text>
</svg>
